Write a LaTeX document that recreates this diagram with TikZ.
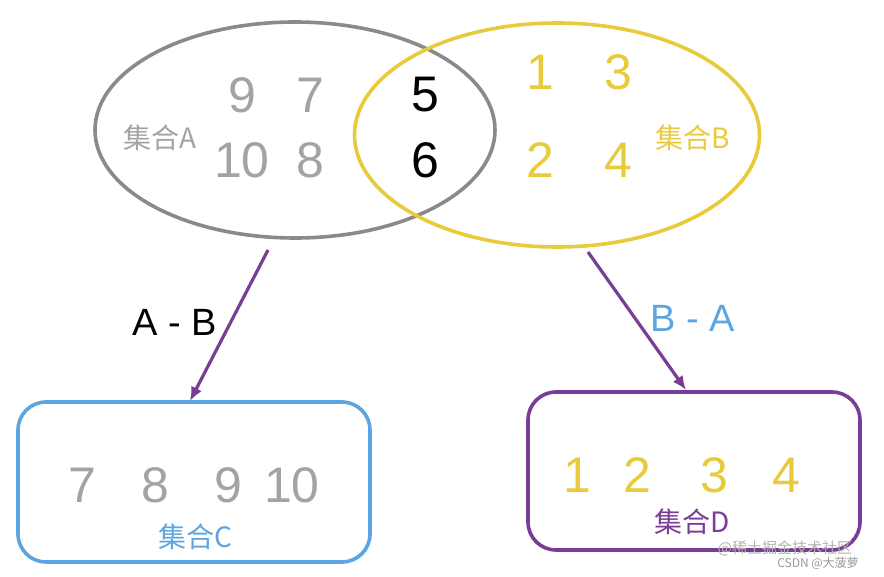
\documentclass[tikz,border=0pt]{standalone}
\usetikzlibrary{shapes.geometric,arrows.meta}
\usepackage{fontspec}
\setmainfont{Liberation Sans}
\newfontfamily\cjk{Noto Sans CJK SC}
\begin{document}
\begin{tikzpicture}[x=1pt,y=-1pt]
\definecolor{ga}{HTML}{A3A3A3}
\definecolor{gline}{HTML}{8A8A8A}
\definecolor{yl}{HTML}{E8CB3A}
\definecolor{bl}{HTML}{5DA5E0}
\definecolor{pu}{HTML}{7A3D95}
\tikzset{num/.style={font=\fontsize{50}{50}\selectfont},
 lab/.style={font=\cjk\fontsize{28}{28}\selectfont},
 arr/.style={draw=pu,line width=3.2pt,-{Latex[length=14pt,width=12pt]}},
 box/.style={rounded corners=28pt,line width=3.6pt,minimum width=#1}}
\useasboundingbox (0,0) rectangle (884,577);
\node[draw=gline,line width=3.6pt,ellipse,minimum width=400,minimum height=216,inner sep=0] (A) at (295,130) {};
\node[draw=yl,line width=3.6pt,ellipse,minimum width=405,minimum height=224,inner sep=0] (B) at (557,135) {};
\node[num,ga] (n9) at (242,95) {9};
\node[num,ga] (n7) at (310,95) {7};
\node[num,ga] (n10) at (242,160) {10};
\node[num,ga] (n8) at (310,160) {8};
\node[num] (n5) at (425,95) {5};
\node[num] (n6) at (425,160) {6};
\node[num,yl] (b1) at (540,72) {1};
\node[num,yl] (b3) at (618,72) {3};
\node[num,yl] (b2) at (540,160) {2};
\node[num,yl] (b4) at (618,160) {4};
\node[lab,ga] (la) at (160,138) {集合A};
\node[lab,yl] (lb) at (693,138) {集合B};
\node[draw=bl,box=352,minimum height=160] (C) at (194,482) {};
\node[draw=pu,box=332,minimum height=158] (D) at (694,471) {};
\coordinate (a1) at (268,250);
\coordinate (a2) at (588,252);
\coordinate (c1) at (190,401);
\coordinate (d1) at (686,390);
\draw[arr] (a1) -- (c1);
\draw[arr] (a2) -- (d1);
\node[font=\fontsize{38}{38}\selectfont] (ab) at (175,322) {A - B};
\node[font=\fontsize{38}{38}\selectfont,bl] (ba) at (693,318) {B - A};
\node[num,ga] (c7) at (82,485) {7};
\node[num,ga] (c8) at (155,485) {8};
\node[num,ga] (c9) at (228,485) {9};
\node[num,ga] (c10) at (292,485) {10};
\node[lab,bl] (lc) at (195,537) {集合C};
\node[num,yl] (e1) at (577,475) {1};
\node[num,yl] (e2) at (637,475) {2};
\node[num,yl] (e3) at (714,475) {3};
\node[num,yl] (e4) at (786,475) {4};
\node[lab,pu] (ld) at (692,522) {集合D};
\node[font=\cjk\fontsize{15}{15}\selectfont,gray!60] (w1) at (785,548) {@稀土掘金技术社区};
\node[font=\cjk\fontsize{12}{12}\selectfont,gray!80] (w2) at (818,563) {CSDN @大菠萝};
\end{tikzpicture}
\end{document}
